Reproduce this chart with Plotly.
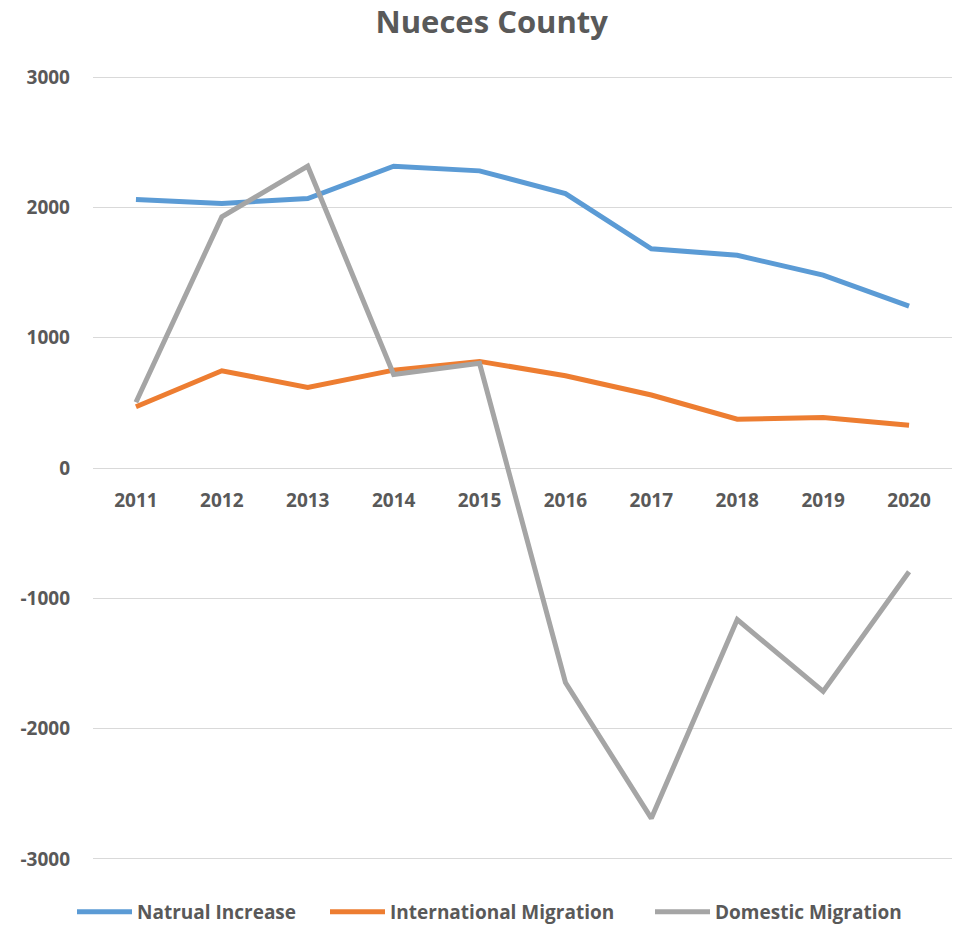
import plotly.graph_objects as go

# Components of population change, Nueces County
years = ["2011", "2012", "2013", "2014", "2015", "2016", "2017", "2018", "2019", "2020"]
natural_increase = [2060, 2030, 2068, 2316, 2280, 2105, 1682, 1632, 1480, 1242]
international_migration = [470, 746, 619, 751, 818, 708, 560, 374, 388, 328]
domestic_migration = [505, 1927, 2316, 718, 803, -1646, -2688, -1163, -1714, -796]

y_ticks = [-3000, -2000, -1000, 0, 1000, 2000, 3000]

FONT = "Open Sans"
TEXT = "#595959"
W, H = 953, 926

series = [
    ("Natrual Increase", natural_increase, "#5B9BD5", "legend", 72),
    ("International Migration", international_migration, "#ED7D31", "legend2", 325),
    ("Domestic Migration", domestic_migration, "#A5A5A5", "legend3", 650),
]

fig = go.Figure()
legends = {}
for name, vals, color, leg, lx in series:
    fig.add_trace(go.Scatter(
        x=years, y=vals, name=name, mode="lines", legend=leg,
        line=dict(color=color, width=5),
    ))
    # one legend box per series so each entry sits at its own spot
    legends[leg] = dict(
        orientation="h", x=lx / W, xref="container", xanchor="left",
        y=1 - 912 / H, yref="container", yanchor="middle",
        font=dict(family=FONT, size=19, color=TEXT, weight="bold"),
        bgcolor="rgba(0,0,0,0)", borderwidth=0, itemwidth=55,
    )

fig.update_layout(
    width=W, height=H,
    margin=dict(l=93, r=1, t=76, b=66, autoexpand=False),
    paper_bgcolor="white", plot_bgcolor="white",
    font=dict(family=FONT, color=TEXT, size=19, weight="bold"),
    title=dict(
        text="<b>Nueces County</b>", x=0.516, xref="container", xanchor="center",
        y=1 - 22 / H, yref="container", yanchor="middle",
        font=dict(family=FONT, size=31, color=TEXT),
    ),
    showlegend=True,
    **legends,
)

fig.update_xaxes(
    type="category", range=[-0.5, 9.5],
    anchor="free", position=0.5,
    showline=False, showgrid=False, zeroline=False,
    ticks="", ticklabelstandoff=19,
    tickfont=dict(family=FONT, size=19, color=TEXT, weight="bold"),
)
fig.update_yaxes(
    range=[-3008, 3008], tickvals=y_ticks, ticktext=[str(v) for v in y_ticks],
    showgrid=True, gridcolor="#D9D9D9", gridwidth=1.3,
    zeroline=True, zerolinecolor="#D9D9D9", zerolinewidth=1.3,
    showline=False, ticks="", ticklabelstandoff=22,
    tickfont=dict(family=FONT, size=19, color=TEXT, weight="bold"),
)

fig.write_html("out.html")
